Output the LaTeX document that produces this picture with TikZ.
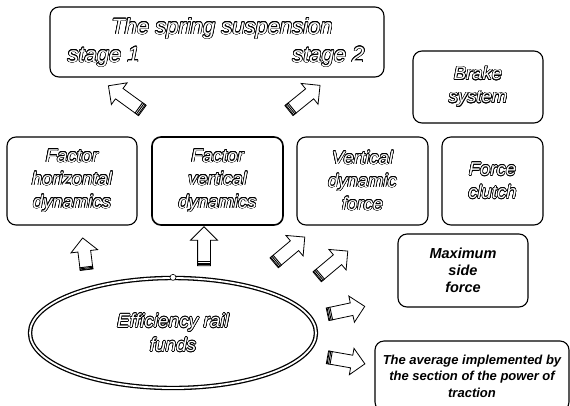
\documentclass[tikz,border=0pt]{standalone}
\usepackage{fontspec}
\setmainfont{Liberation Sans}
\usepackage{contour}
\contourlength{0.6pt}
\usetikzlibrary{shapes.geometric,shapes.arrows,calc}
\newcommand\hol[1]{\contour{black}{\textcolor{white}{#1}}}
\tikzset{
	box/.style = {draw, line width=1.1pt, rounded corners=9pt, inner sep=0pt, align=center,
		font=\fontsize{18.5}{23}\selectfont\itshape},
	solidbox/.style = {box, font=\fontsize{14.5}{17}\selectfont\itshape\bfseries},
	fatarrow/.style = {single arrow, draw, line width=0.8pt, inner xsep=0pt, inner ysep=6pt, fill=white,
		minimum width=26pt, single arrow head extend=7pt, minimum height=40pt},
}
\begin{document}
\begin{tikzpicture}[x = 1pt, y = 1pt]
	\useasboundingbox (0,0) rectangle (570,-405);
	\clip (0,0) rectangle (570,-405);
	% top row
	\node [box, minimum width=334, minimum height=70] (spring) at (217,-42) {};
	\node [anchor=base, font=\fontsize{22}{26}\selectfont\itshape] (title) at (222,-34) {\hol{The spring suspension}};
	\node [anchor=base west, font=\fontsize{22}{26}\selectfont\itshape] (stage1) at (64,-62) {\hol{stage 1}};
	\node [anchor=base east, font=\fontsize{22}{26}\selectfont\itshape] (stage2) at (368,-62) {\hol{stage 2}};
	\node [box, minimum width=130, minimum height=72] (brake) at (478,-87) {\hol{Brake}\\ \hol{system}};
	% middle row
	\node [box, minimum width=130, minimum height=88] (horiz) at (72,-181) {\hol{Factor}\\ \hol{horizontal}\\ \hol{dynamics}};
	\node [box, line width=1.6pt, minimum width=131, minimum height=88] (vert) at (217.5,-181) {\hol{Factor}\\ \hol{vertical}\\ \hol{dynamics}};
	\node [box, minimum width=131, minimum height=88] (vforce) at (362.5,-181) {\hol{Vertical}\\ \hol{dynamic}\\ \hol{force}};
	\node [box, minimum width=101, minimum height=88] (clutch) at (492.5,-181) {\hol{Force}\\ \hol{clutch}};
	% right column
	\node [solidbox, minimum width=130, minimum height=73] (maxside) at (463,-270.5) {Maximum\\ side\\ force};
	\node [solidbox, font=\fontsize{13}{16.5}\selectfont\itshape\bfseries, minimum width=194, minimum height=70] (traction) at (472,-376) {The average implemented by\\ the section of the power of\\ traction};
	% main ellipse
	\node [ellipse, draw, double, line width=1.3pt, double distance=1.8pt, minimum width=286, minimum height=110,
		align=center, font=\fontsize{19}{24}\selectfont\itshape] (funds) at (173,-333) {\hol{Efficiency rail}\\ \hol{funds}};
	\node [circle, draw, line width=0.6pt, fill=white, inner sep=0pt, minimum size=6] (knot) at (funds.north) {};
	% block arrows
	\node [fatarrow, minimum height=42, rotate=144] (arr1) at (128,-100) {};
	\node [fatarrow, rotate=39] (arr2) at (302,-100) {};
	\node [fatarrow, minimum height=32, rotate=97] (arr3) at (85,-257) {};
	\node [fatarrow, minimum height=39, rotate=90] (arr4) at (204,-249.5) {};
	\node [fatarrow, rotate=40] (arr5) at (287,-252) {};
	\node [fatarrow, rotate=40] (arr6) at (330,-266) {};
	\node [fatarrow, minimum height=38, rotate=12] (arr7) at (343,-311) {};
	\node [fatarrow, minimum height=38, rotate=-10] (arr8) at (343,-360) {};
	% hatched tails
	\foreach \a in {arr1,arr2,arr3,arr4,arr5,arr6,arr7,arr8}
		\foreach \f in {0.05,0.11,0.17}
			\path [draw, line width=0.9pt] ($(\a.before tail)!\f!(\a.after head)$) -- ($(\a.after tail)!\f!(\a.before head)$);
\end{tikzpicture}
\end{document}
